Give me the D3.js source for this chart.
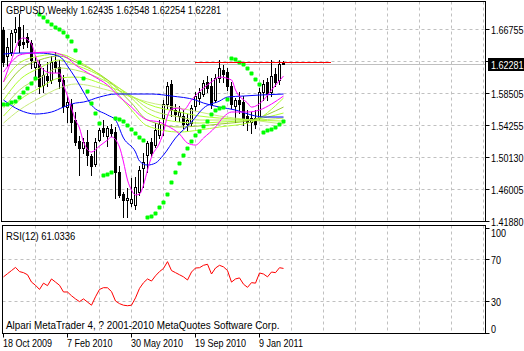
<!DOCTYPE html>
<html>
<head>
<meta charset="utf-8">
<style>
  body { margin: 0; background: #fff; }
  svg { display: block; }
  text { font-family: "Liberation Sans", Arial, sans-serif; font-size: 11px; fill: #000; }
</style>
</head>
<body>
<svg id="chart" width="524" height="351"></svg>
<script src="https://d3js.org/d3.v7.min.js"></script>
<script>
// weekly bars, first bar = week of 18 Oct 2009
const startDate = new Date(2009, 9, 18);

const open  = [1.6662,1.6325,1.6377,1.6636,1.6701,1.6507,1.6571,1.6494,1.6183,1.6222,1.5950,1.6066,1.6015,1.6248,1.6183,1.6015,1.5664,1.5703,1.5496,1.5224,
               1.5133,1.5211,1.5030,1.4926,1.5237,1.5393,1.5289,1.5380,1.5341,1.4822,1.4537,1.4460,1.4421,1.4395,1.4563,1.4874,1.5043,1.5211,1.5172,1.5302,
               1.5522,1.5703,1.5963,1.5626,1.5548,1.5548,1.5444,1.5457,1.5677,1.5781,1.5833,1.5989,1.5937,1.5755,1.6040,1.6144,1.6118,1.5937,1.5677,1.5755,
               1.5729,1.5548,1.5470,1.5522,1.5522,1.5859,1.5989,1.5859,1.6092,1.6015,1.62435];
const high  = [1.6701,1.6558,1.6662,1.6830,1.6869,1.6727,1.6623,1.6533,1.6325,1.6274,1.6170,1.6248,1.6325,1.6377,1.6274,1.6079,1.5807,1.5768,1.5600,1.5289,
               1.5263,1.5367,1.5056,1.5263,1.5393,1.5496,1.5419,1.5444,1.5406,1.4900,1.4563,1.4615,1.4745,1.4758,1.4900,1.5069,1.5224,1.5263,1.5457,1.5496,
               1.5755,1.5989,1.6015,1.5703,1.5677,1.5626,1.5574,1.5690,1.5859,1.5911,1.6015,1.6066,1.6040,1.6092,1.6274,1.6209,1.6170,1.5989,1.5781,1.5859,
               1.5807,1.5626,1.5600,1.5626,1.5911,1.6015,1.6040,1.6274,1.6170,1.6274,1.62548];
const low   = [1.6196,1.6196,1.6338,1.6507,1.6377,1.6429,1.6442,1.6170,1.6066,1.5846,1.5859,1.5937,1.5976,1.6118,1.5911,1.5600,1.5470,1.5341,1.5172,1.4783,
               1.5069,1.4913,1.4783,1.4900,1.5224,1.5289,1.5159,1.5289,1.4486,1.4499,1.4240,1.4240,1.4382,1.4343,1.4524,1.4628,1.4822,1.5030,1.5146,1.5263,
               1.5302,1.5651,1.5548,1.5496,1.5483,1.5393,1.5367,1.5419,1.5626,1.5703,1.5807,1.5859,1.5651,1.5729,1.5989,1.5989,1.5885,1.5651,1.5470,1.5587,
               1.5431,1.5367,1.5328,1.5393,1.5496,1.5755,1.5755,1.5807,1.5937,1.5963,1.62254];
const close = [1.6248,1.6442,1.6623,1.6675,1.6468,1.6481,1.6507,1.6274,1.6248,1.5937,1.6079,1.6015,1.6248,1.6183,1.6002,1.5677,1.5729,1.5470,1.5211,1.5133,
               1.5211,1.5043,1.4900,1.5211,1.5367,1.5341,1.5393,1.5328,1.4822,1.4524,1.4460,1.4486,1.4473,1.4628,1.4848,1.4952,1.5198,1.5069,1.5367,1.5444,
               1.5703,1.5937,1.5626,1.5574,1.5600,1.5444,1.5496,1.5651,1.5807,1.5859,1.5976,1.5911,1.5703,1.6040,1.6170,1.6092,1.5937,1.5703,1.5755,1.5703,
               1.5522,1.5470,1.5522,1.5444,1.5859,1.5963,1.5833,1.6066,1.5989,1.6222,1.62281];

// Parabolic SAR, one value per bar
const sar = [1.5703,1.5703,1.5729,1.5742,1.5794,1.5859,1.5911,1.5976,1.6040,1.6869,1.6830,1.6779,1.6740,1.6701,1.6675,1.6636,1.6585,1.6520,1.6403,1.6248,
             1.6040,1.5872,1.5716,1.5587,1.5457,1.4783,1.4796,1.4822,1.5522,1.5509,1.5483,1.5431,1.5380,1.5328,1.5276,1.5237,1.4240,1.4253,1.4292,1.4369,
             1.4434,1.4537,1.4693,1.4822,1.4939,1.5043,1.5133,1.5224,1.5302,1.5354,1.5419,1.5483,1.5574,1.5626,1.5651,1.5664,1.5768,1.6300,1.6287,1.6248,
             1.6222,1.6170,1.6105,1.6028,1.5963,1.5341,1.5367,1.5380,1.5406,1.5444,1.5483];

// moving averages as [bar, price]
const blueFast = [[0,1.6351],[4,1.6364],[9,1.6364],[13,1.6338],[15,1.6274],[16,1.6196],[18,1.6040],[20,1.5859],[22,1.5690],[26,1.5561],[28,1.5496],
                  [30,1.5263],[33,1.5082],[34,1.4965],[36,1.4913],[38,1.4939],[40,1.5043],[43,1.5263],[47,1.5470],[50,1.5651],[54,1.5742],[56,1.5794],
                  [60,1.5807],[64,1.5820],[70,1.5833]];
const blueSlow = [[0,1.5755],[4,1.5626],[8,1.5574],[12,1.5600],[15,1.5664],[18,1.5716],[20,1.5729],[24,1.5794],[28,1.5833],[37,1.5833],[42,1.5807],
                  [48,1.5755],[50,1.5716],[54,1.5664],[58,1.5626],[62,1.5561],[65,1.5535],[70,1.5535]];
const magentaFast = [[0,1.5989],[2,1.6274],[4,1.6533],[5,1.6559],[7,1.6481],[8,1.6325],[10,1.6144],[12,1.6105],[14,1.6105],[15,1.5950],[16,1.5807],
                     [17,1.5651],[18,1.5496],[19,1.5393],[20,1.5211],[22,1.5082],[24,1.5159],[26,1.5237],[27,1.5276],[29,1.5146],[30,1.4952],[31,1.4719],
                     [32,1.4589],[33,1.4525],[34,1.4537],[35,1.4654],[36,1.4848],[37,1.5017],[39,1.5198],[40,1.5341],[41,1.5548],[42,1.5639],[44,1.5651],
                     [45,1.5626],[47,1.5755],[50,1.5911],[52,1.5989],[54,1.6053],[57,1.6015],[58,1.5885],[61,1.5716],[62,1.5664],[65,1.5755],[67,1.5885],
                     [70,1.6066]];
const magentaSlow = [[0,1.6118],[2,1.6248],[4,1.6338],[7,1.6364],[12,1.6377],[14,1.6351],[16,1.6300],[18,1.6209],[22,1.6079],[26,1.5950],[29,1.5794],
                     [32,1.5664],[34,1.5561],[36,1.5496],[39,1.5470],[41,1.5419],[44,1.5315],[46,1.5198],[48,1.5172],[50,1.5263],[53,1.5406],[55,1.5535],
                     [57,1.5600],[61,1.5600],[64,1.5626],[67,1.5703],[70,1.5807]];

// long average fan, values at these bars
const fanBars = [0,4,9,14,18,26,32,36,44,49,54,62,70];
const fan1 = [1.5989,1.6235,1.6325,1.6351,1.6274,1.5989,1.5626,1.5419,1.5341,1.5367,1.5406,1.5470,1.5781];
const fan2 = [1.5885,1.6144,1.6274,1.6325,1.6248,1.6015,1.5716,1.5496,1.5406,1.5419,1.5444,1.5496,1.5664];
const fan3 = [1.5755,1.6015,1.6170,1.6274,1.6209,1.6015,1.5781,1.5587,1.5470,1.5457,1.5470,1.5496,1.5587];
const fan4 = [1.5651,1.5885,1.6040,1.6170,1.6144,1.5989,1.5807,1.5651,1.5535,1.5496,1.5496,1.5496,1.5522];
const fan5 = [1.5548,1.5755,1.5911,1.6040,1.6053,1.5937,1.5807,1.5703,1.5600,1.5548,1.5522,1.5496,1.5483];
const fan6 = [1.5457,1.5626,1.5781,1.5911,1.5963,1.5885,1.5794,1.5729,1.5651,1.5600,1.5548,1.5496,1.5444];

// RSI(12), one value per bar
const rsi = [53,56,59,62,58,57,55,48,45,41,47,44.6,51,48,45,38.6,38.6,35,32,29.4,
             32,29,26,34,41,42.7,42.6,39,30,27.5,26,25.5,26,33,42,47.4,51,49,54,58,
             61,67.5,59,57,55,53,50,57.6,61.4,61.7,64,65,55.7,61.4,64,62.5,59,48,51,52,
             46,43,47.5,47,56.7,55.7,53,57.6,57,61.7,61.0336];

const priceTicks = [1.66755, 1.62630, 1.58505, 1.54255, 1.50130, 1.46005, 1.41880];
const rsiTicks = [100, 70, 30, 0];
const rsiGrid = [70, 30];
const timeTickBars = [0, 16, 32, 48, 64];
const redLine = {price: 1.6250, from: 48, to: 82};
const symbol = "GBPUSD,Weekly";
const rsiName = "RSI(12)";
const copyright = "Alpari MetaTrader 4, ? 2001-2010 MetaQuotes Software Corp.";

const bars = close.map((c, i) => ({
  date: d3.timeWeek.offset(startDate, i), o: open[i], h: high[i], l: low[i], c: c
}));
const last = bars[bars.length - 1];

const svg = d3.select('#chart');

const x = d3.scaleTime()
  .domain([startDate, d3.timeWeek.offset(startDate, 120)])
  .range([3, 483]);
const y = d3.scaleLinear().domain([1.41880, 1.66755]).range([221, 29]);
const yr = d3.scaleLinear().domain([0, 100]).range([332.5, 227.5]);
const bx = i => Math.round(x(d3.timeWeek.offset(startDate, i)));

const L = 1.5, R = 485.5, mainTop = 1.5, mainBot = 221.5, rsiTop = 225.5, rsiBot = 333.5;
const gridX = d3.range(8, 121, 8);

// narrow text like the terminal font
function label(g, tx, ty, s, k = 0.82) {
  return g.append('text').attr('transform', `translate(${tx},${ty}) scale(${k},1)`).text(s);
}

// grid
const grid = svg.append('g').attr('stroke', '#c0c0c0').attr('stroke-dasharray', '3,3');
grid.selectAll('.gx').data(gridX).join('line')
  .attr('x1', d => bx(d) + 0.5).attr('x2', d => bx(d) + 0.5)
  .attr('y1', mainTop).attr('y2', mainBot);
grid.selectAll('.gxr').data(gridX).join('line')
  .attr('x1', d => bx(d) + 0.5).attr('x2', d => bx(d) + 0.5)
  .attr('y1', rsiTop).attr('y2', rsiBot);
grid.selectAll('.gy').data(priceTicks.slice(0, -1)).join('line')
  .attr('x1', L).attr('x2', R)
  .attr('y1', d => Math.round(y(d)) + 0.5).attr('y2', d => Math.round(y(d)) + 0.5);
grid.selectAll('.gyr').data(rsiGrid).join('line')
  .attr('x1', L + 1).attr('x2', R)
  .attr('y1', d => Math.round(yr(d)) + 0.5).attr('y2', d => Math.round(yr(d)) + 0.5);

// bid line
svg.append('line')
  .attr('x1', L).attr('x2', R)
  .attr('y1', Math.round(y(last.c)) + 0.5).attr('y2', Math.round(y(last.c)) + 0.5)
  .attr('stroke', '#c0c0c0');

// candles
const cg = svg.append('g');
bars.forEach((d, i) => {
  const px = bx(i);
  cg.append('line')
    .attr('x1', px + 0.5).attr('x2', px + 0.5)
    .attr('y1', Math.round(y(d.h))).attr('y2', Math.round(y(d.l)) + 1)
    .attr('stroke', '#000');
  const yo = Math.round(y(d.o)), yc = Math.round(y(d.c));
  if (d.c >= d.o) {
    cg.append('rect')
      .attr('x', px - 0.5).attr('width', 2)
      .attr('y', yc + 0.5).attr('height', Math.max(0, yo - yc))
      .attr('fill', '#fff').attr('stroke', '#000');
  } else {
    cg.append('rect')
      .attr('x', px - 1).attr('width', 3)
      .attr('y', yo).attr('height', Math.max(1, yc - yo + 1))
      .attr('fill', '#000');
  }
});

// moving averages
const mline = d3.line().x(d => bx(d[0]) + 0.5).y(d => y(d[1])).curve(d3.curveMonotoneX);
const fans = [fan6, fan5, fan4, fan3, fan2, fan1];
const fanColors = ['#c8ec7c', '#adff2f', '#b8e860', '#adff2f', '#9acd32', '#adff2f'];
fans.forEach((f, k) => {
  svg.append('path').attr('d', mline(fanBars.map((b, j) => [b, f[j]])))
    .attr('fill', 'none').attr('stroke', fanColors[k]);
});
[[blueSlow, '#0000ff'], [blueFast, '#0000ff'], [magentaSlow, '#ff00ff'], [magentaFast, '#ff00ff']].forEach(([s, c]) => {
  svg.append('path').attr('d', mline(s)).attr('fill', 'none').attr('stroke', c);
});

// parabolic SAR
svg.append('g').selectAll('rect').data(sar).join('rect')
  .attr('x', (d, i) => bx(i) - 1.5).attr('y', d => Math.round(y(d)) - 1.5)
  .attr('width', 4).attr('height', 4).attr('rx', 1)
  .attr('fill', '#00ff00');

// red horizontal line
svg.append('line')
  .attr('x1', bx(redLine.from)).attr('x2', bx(redLine.to))
  .attr('y1', Math.round(y(redLine.price)) + 0.5).attr('y2', Math.round(y(redLine.price)) + 0.5)
  .attr('stroke', '#ff0000');

// RSI
svg.append('path')
  .attr('d', d3.line().x((d, i) => bx(i) + 0.5).y(d => yr(d))(rsi))
  .attr('fill', 'none').attr('stroke', '#ff0000');

// frames
svg.append('rect').attr('x', L).attr('y', mainTop).attr('width', R - L).attr('height', mainBot - mainTop)
  .attr('fill', 'none').attr('stroke', '#000');
svg.append('rect').attr('x', L + 1).attr('y', rsiTop).attr('width', R - L - 1).attr('height', rsiBot - rsiTop)
  .attr('fill', 'none').attr('stroke', '#000');

// price axis (a label under the last-price box is not shown)
const pa = svg.append('g');
const ly = Math.round(y(last.c));
priceTicks.forEach(p => {
  const yy = Math.round(y(p)) + 0.5;
  pa.append('line').attr('x1', R).attr('x2', R + 4).attr('y1', yy).attr('y2', yy).attr('stroke', '#000');
  if (Math.abs(yy - ly) > 8) label(pa, 491, yy + 4, p.toFixed(5));
});
pa.append('rect').attr('x', 488).attr('y', ly - 6).attr('width', 36).attr('height', 13).attr('fill', '#000');
label(pa, 491, ly + 4.5, last.c.toFixed(5)).style('fill', '#fff');

// rsi axis
rsiTicks.forEach(v => {
  const yy = Math.round(yr(v)) + 0.5;
  pa.append('line').attr('x1', R).attr('x2', R + 4).attr('y1', yy).attr('y2', yy).attr('stroke', '#000');
  const ty = v === 100 ? yy + 8 : v === 0 ? yy - 1 : yy + 4;
  label(pa, 491, ty, v);
});

// time axis
const fmt = d3.timeFormat('%-d %b %Y');
timeTickBars.forEach(b => {
  const px = bx(b);
  svg.append('line').attr('x1', px + 0.5).attr('x2', px + 0.5).attr('y1', rsiBot).attr('y2', rsiBot + 4).attr('stroke', '#000');
  label(svg, px, 347, fmt(d3.timeWeek.offset(startDate, b)));
});

// labels
label(svg, 6, 14, symbol + '  ' + [last.o, last.h, last.l, last.c].map(v => v.toFixed(5)).join(' '), 0.84);
label(svg, 6, 240, rsiName + ' ' + rsi[rsi.length - 1].toFixed(4), 0.86);
label(svg, 6, 329, copyright, 0.9);
</script>
</body>
</html>
